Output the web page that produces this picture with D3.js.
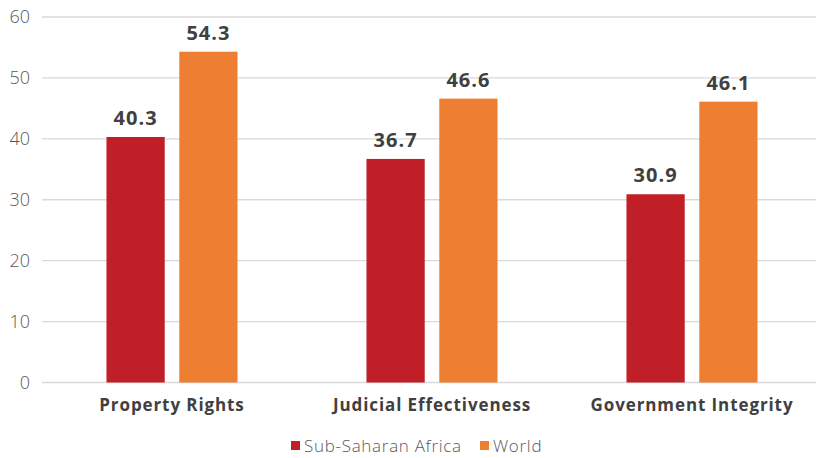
<!doctype html>
<html>
<head>
<meta charset="utf-8">
<script src="https://d3js.org/d3.v7.min.js"></script>
<style>
  body { margin: 0; background: #fff; }
  text { font-family: "Open Sans", Lato, sans-serif; }
</style>
</head>
<body>
<svg width="816" height="458"></svg>
<script>
var categories = ["Property Rights", "Judicial Effectiveness", "Government Integrity"];
var seriesNames = ["Sub-Saharan Africa", "World"];
var africaValues = [40.3, 36.7, 30.9];
var worldValues = [54.3, 46.6, 46.1];
var yTicks = [0, 10, 20, 30, 40, 50, 60];
var colors = ["#c01f27", "#ee7e31"];

var svg = d3.select("svg");

var x0 = d3.scaleBand().domain(categories).range([42, 822])
    .paddingInner(0.496).paddingOuter(0.248);
var x1 = d3.scaleBand().domain(seriesNames).range([0, x0.bandwidth()])
    .paddingInner(0.2);
var y = d3.scaleLinear().domain([0, 60]).range([382.5, 17]);

// gridlines
svg.append("g").selectAll("line").data(yTicks).enter()
  .append("line")
    .attr("x1", 42).attr("x2", 816)
    .attr("y1", d => y(d)).attr("y2", d => y(d))
    .style("stroke", "#d9d9d9").style("stroke-width", 1.3);

// y tick labels
svg.append("g").selectAll("text").data(yTicks).enter()
  .append("text")
    .attr("x", 30).attr("y", d => y(d)).attr("dy", "0.35em")
    .attr("text-anchor", "end")
    .style("font-size", "18px").style("font-weight", 300)
    .style("fill", "#595959")
    .text(d => d);

var rows = categories.map((c, i) => ({cat: c, vals: [africaValues[i], worldValues[i]]}));

var groups = svg.append("g").selectAll("g").data(rows).enter()
  .append("g")
    .attr("transform", d => `translate(${x0(d.cat)},0)`);

var bars = groups.selectAll("g").data(d => d.vals.map((v, j) => ({name: seriesNames[j], v: v, j: j})))
  .enter().append("g");

bars.append("rect")
    .attr("x", d => x1(d.name))
    .attr("width", x1.bandwidth())
    .attr("y", d => y(d.v))
    .attr("height", d => y(0) - y(d.v))
    .style("fill", d => colors[d.j]);

bars.append("text")
    .attr("x", d => x1(d.name) + x1.bandwidth() / 2)
    .attr("y", d => y(d.v) - 12)
    .attr("text-anchor", "middle")
    .style("font-size", "20px").style("font-weight", 700)
    .style("letter-spacing", "1px")
    .style("fill", "#404040")
    .text(d => d.v.toFixed(1));

// category labels
svg.append("g").selectAll("text").data(categories).enter()
  .append("text")
    .attr("x", d => x0(d) + x0.bandwidth() / 2)
    .attr("y", 411)
    .attr("text-anchor", "middle")
    .style("font-size", "17px").style("font-weight", 700)
    .style("letter-spacing", "0.9px")
    .style("fill", "#404040")
    .text(d => d);

// legend
var legendX = [291, 480];
var legend = svg.append("g").selectAll("g").data(seriesNames).enter()
  .append("g")
    .attr("transform", (d, i) => `translate(${legendX[i]},446)`);
legend.append("rect")
    .attr("x", 0).attr("y", -5).attr("width", 9).attr("height", 9)
    .style("fill", (d, i) => colors[i]);
legend.append("text")
    .attr("x", 13).attr("y", 0).attr("dy", "0.35em")
    .style("font-size", "17px").style("font-weight", 300)
    .style("letter-spacing", "0.7px")
    .style("fill", "#595959")
    .text(d => d);
</script>
</body>
</html>
